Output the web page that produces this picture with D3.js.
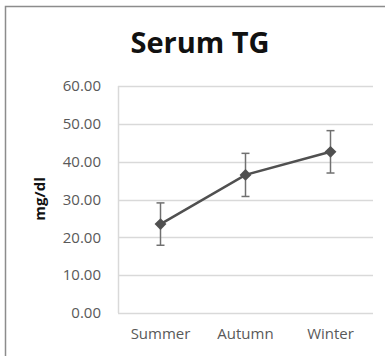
<html>
<head>
    <script src="https://d3js.org/d3.v7.min.js"></script>
    <style>
        body { margin: 0; background: white; }
        text { font-family: "Open Sans", sans-serif; }
    </style>
</head>
<body>
    <svg id="svg" width="385" height="356"></svg>
    <script>
        const seasons = ["Summer", "Autumn", "Winter"];
        const tgMean = [23.5, 36.5, 42.6];
        const tgErr = [5.6, 5.7, 5.6];
        const yTicks = [0, 10, 20, 30, 40, 50, 60];

        const svg = d3.select('#svg');
        const margin = { top: 86, right: 12, bottom: 43, left: 118 };
        const width = +svg.attr("width");
        const height = +svg.attr("height");
        const chartWidth = width - margin.left - margin.right;
        const chartHeight = height - margin.top - margin.bottom;

        // outer chart frame (right and bottom are cut off in the picture)
        svg.append("path")
            .attr("d", `M5.5,${height} V6.5 H${width}`)
            .style("fill", "none")
            .style("stroke", "#8c8c8c")
            .style("stroke-width", 1.5);

        svg.append("text")
            .attr("x", 200)
            .attr("y", 53)
            .style("text-anchor", "middle")
            .style("font-size", "29px")
            .style("font-weight", "bold")
            .style("fill", "#111")
            .text("Serum TG");

        const g = svg.append("g").attr("transform", `translate(${margin.left},${margin.top})`);

        const xScale = d3.scaleBand().domain(seasons).range([0, chartWidth]);
        const yScale = d3.scaleLinear().domain([0, 60]).range([chartHeight, 0]);

        g.selectAll("line.grid").data(yTicks)
            .join("line")
            .attr("class", "grid")
            .attr("x1", 0)
            .attr("x2", chartWidth)
            .attr("y1", d => Math.round(yScale(d)) + 0.5)
            .attr("y2", d => Math.round(yScale(d)) + 0.5)
            .style("stroke", "#d9d9d9")
            .style("stroke-width", 1.5);

        g.append("line")
            .attr("x1", 0.5).attr("x2", 0.5)
            .attr("y1", 0).attr("y2", chartHeight)
            .style("stroke", "#d9d9d9")
            .style("stroke-width", 1.5);

        const yAxis = g.append("g")
            .call(d3.axisLeft(yScale).tickValues(yTicks).tickFormat(d3.format(".2f")).tickSize(0).tickPadding(17));
        yAxis.select(".domain").remove();
        yAxis.selectAll("text")
            .style("font-family", '"Open Sans", sans-serif')
            .style("font-size", "15px")
            .style("fill", "#595959");

        const xAxis = g.append("g")
            .attr("transform", `translate(0,${chartHeight})`)
            .call(d3.axisBottom(xScale).tickSize(0).tickPadding(15));
        xAxis.select(".domain").remove();
        xAxis.selectAll("text")
            .style("font-family", '"Open Sans", sans-serif')
            .style("font-size", "15px")
            .style("fill", "#595959");

        svg.append("text")
            .attr("transform", "translate(45,199) rotate(-90)")
            .style("text-anchor", "middle")
            .style("font-size", "15px")
            .style("font-weight", "bold")
            .style("fill", "#111")
            .text("mg/dl");

        const cx = d => xScale(d) + xScale.bandwidth() / 2;
        const pts = seasons.map((s, i) => ({ s: s, m: tgMean[i], e: tgErr[i] }));

        // error bars
        const eb = g.selectAll("g.err").data(pts).join("g").attr("class", "err");
        eb.append("line")
            .attr("x1", d => cx(d.s)).attr("x2", d => cx(d.s))
            .attr("y1", d => yScale(d.m + d.e)).attr("y2", d => yScale(d.m - d.e));
        eb.append("line")
            .attr("x1", d => cx(d.s) - 4).attr("x2", d => cx(d.s) + 4)
            .attr("y1", d => yScale(d.m + d.e)).attr("y2", d => yScale(d.m + d.e));
        eb.append("line")
            .attr("x1", d => cx(d.s) - 4).attr("x2", d => cx(d.s) + 4)
            .attr("y1", d => yScale(d.m - d.e)).attr("y2", d => yScale(d.m - d.e));
        eb.selectAll("line").style("stroke", "#707070").style("stroke-width", 1.5);

        g.append("path")
            .datum(pts)
            .attr("d", d3.line().x(d => cx(d.s)).y(d => yScale(d.m)))
            .style("fill", "none")
            .style("stroke", "#505050")
            .style("stroke-width", 2.5);

        g.selectAll("path.marker").data(pts)
            .join("path")
            .attr("class", "marker")
            .attr("d", d3.symbol().type(d3.symbolDiamond2).size(90))
            .attr("transform", d => `translate(${cx(d.s)},${yScale(d.m)})`)
            .style("fill", "#505050");
    </script>
</body>
</html>
